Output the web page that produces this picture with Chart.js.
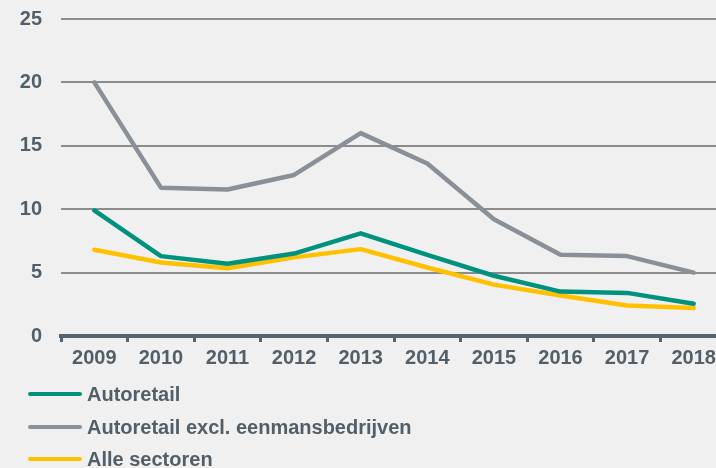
<!DOCTYPE html>
<html>
<head>
<meta charset="utf-8">
<script src="https://cdn.jsdelivr.net/npm/chart.js@4/dist/chart.umd.min.js"></script>
<style>
  html, body { margin: 0; padding: 0; background: #f0f0f0; overflow: hidden; width: 716px; height: 468px; }
  #wrap { position: relative; width: 716px; height: 468px; overflow: hidden; }
  canvas { position: absolute; left: 0; top: 0; }
  #legend { position: absolute; left: 0; top: 0; width: 716px; height: 468px; pointer-events: none;
            font-family: "Liberation Sans", Arial, sans-serif; font-weight: bold; font-size: 20px; color: #535f68; }
  .item { position: absolute; left: 28px; height: 24px; line-height: 24px; white-space: nowrap; }
  .swatch { position: absolute; left: 0; top: 10px; width: 54px; height: 4px; border-radius: 2px; }
  .lbl { position: absolute; left: 59px; top: 0; }
</style>
</head>
<body>
<div id="wrap">
  <canvas id="c" width="727" height="468"></canvas>
  <div id="legend"></div>
</div>
<script>
const years = ['2009','2010','2011','2012','2013','2014','2015','2016','2017','2018'];
const seriesNames = ['Autoretail', 'Autoretail excl. eenmansbedrijven', 'Alle sectoren'];
const autoretail = [9.9, 6.3, 5.7, 6.5, 8.1, 6.4, 4.75, 3.5, 3.4, 2.55];
const autoretailExcl = [20.0, 11.7, 11.55, 12.7, 16.0, 13.6, 9.2, 6.4, 6.3, 5.0];
const alleSectoren = [6.8, 5.8, 5.35, 6.2, 6.85, 5.4, 4.05, 3.2, 2.4, 2.2];
const yTicks = [0, 5, 10, 15, 20, 25];
const colors = ['#00927f', '#8a9098', '#ffc000'];

const textColor = '#535f68';
const font = { family: '"Liberation Sans", Arial, sans-serif', size: 20, weight: 'bold' };
const values = [autoretail, autoretailExcl, alleSectoren];

const chart = new Chart(document.getElementById('c'), {
  type: 'line',
  data: {
    labels: years,
    datasets: values.map((v, i) => ({
      label: seriesNames[i],
      data: v,
      borderColor: colors[i],
      backgroundColor: colors[i],
      borderWidth: 4.5,
      pointRadius: 0,
      tension: 0,
      borderCapStyle: 'round',
      borderJoinStyle: 'round',
      fill: false
    }))
  },
  options: {
    responsive: false,
    animation: false,
    layout: { padding: { top: 19, right: 0, bottom: 94, left: 0 } },
    plugins: { legend: { display: false }, tooltip: { enabled: false } },
    scales: {
      x: {
        offset: true,
        grid: { display: true, drawOnChartArea: false, drawTicks: true, tickLength: 6, color: '#55646d', lineWidth: 3, offset: true },
        border: { display: true, color: '#55646d', width: 4 },
        ticks: { color: textColor, font: font, padding: 4, maxRotation: 0, autoSkip: false }
      },
      y: {
        min: yTicks[0],
        max: yTicks[yTicks.length - 1],
        afterBuildTicks: (s) => { s.ticks = yTicks.map(v => ({ value: v })); },
        afterFit: (s) => { s.width = 61; },
        grid: { color: '#8c8c8c', lineWidth: 2, drawTicks: true, tickLength: 19, tickColor: 'rgba(0,0,0,0)' },
        border: { display: false },
        ticks: { color: textColor, font: font, padding: 0 }
      }
    }
  }
});

const legend = document.getElementById('legend');
const rowCenters = [394, 427, 459];
seriesNames.forEach((name, i) => {
  const item = document.createElement('div');
  item.className = 'item';
  item.style.top = (rowCenters[i] - 12) + 'px';
  const sw = document.createElement('div');
  sw.className = 'swatch';
  sw.style.background = colors[i];
  const lbl = document.createElement('span');
  lbl.className = 'lbl';
  lbl.textContent = name;
  item.appendChild(sw);
  item.appendChild(lbl);
  legend.appendChild(item);
});
</script>
</body>
</html>
